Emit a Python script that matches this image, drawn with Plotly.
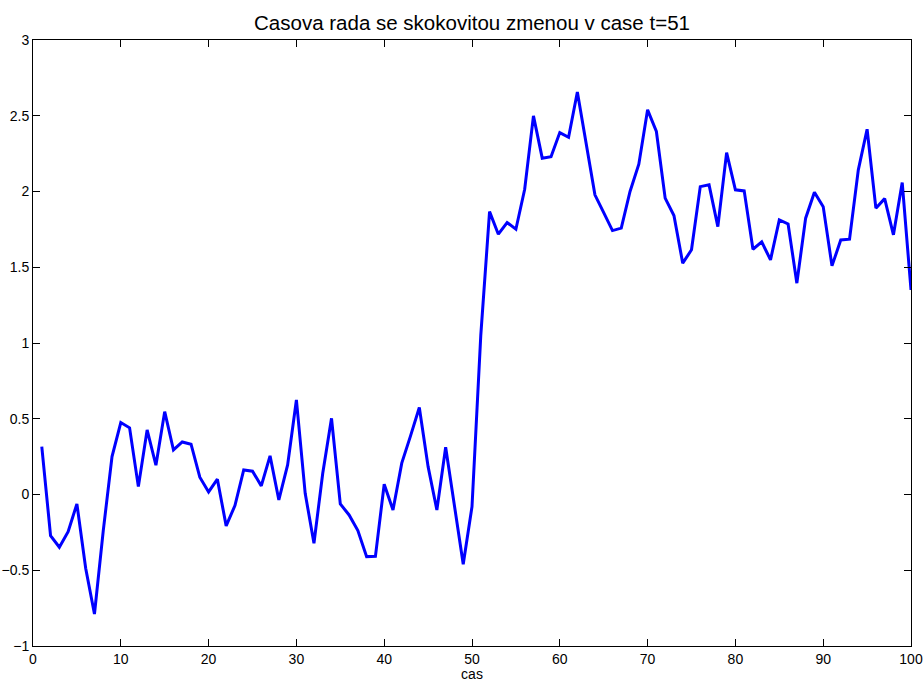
import plotly.graph_objects as go

t = list(range(1, 101))
values = [
    0.316, -0.271, -0.348, -0.245, -0.062, -0.487, -0.789, -0.24, 0.25, 0.475,
    0.44, 0.052, 0.426, 0.193, 0.547, 0.294, 0.347, 0.332, 0.114, 0.017,
    0.101, -0.207, -0.073, 0.162, 0.154, 0.057, 0.255, -0.036, 0.195, 0.624,
    0.008, -0.322, 0.14, 0.503, -0.062, -0.135, -0.238, -0.41, -0.408, 0.068,
    -0.102, 0.207, 0.387, 0.574, 0.184, -0.102, 0.312, -0.069, -0.46, -0.08,
    1.05, 1.867, 1.718, 1.795, 1.751, 2.015, 2.499, 2.22, 2.23, 2.389,
    2.358, 2.657, 2.31, 1.978, 1.861, 1.742, 1.758, 2.0, 2.18, 2.539,
    2.396, 1.956, 1.841, 1.527, 1.615, 2.032, 2.044, 1.768, 2.257, 2.011,
    2.004, 1.619, 1.667, 1.549, 1.813, 1.786, 1.395, 1.824, 1.995, 1.9,
    1.509, 1.68, 1.685, 2.143, 2.411, 1.89, 1.953, 1.714, 2.059, 1.35,
]
title_text = "Casova rada se skokovitou zmenou v case t=51"
x_label = "cas"

FONT = "Liberation Sans, Arial, Helvetica, sans-serif"

fig = go.Figure()
fig.add_trace(go.Scatter(
    x=t, y=values, mode="lines",
    line=dict(color="#0000FF", width=3),
    showlegend=False,
))

axis_common = dict(
    showline=True, linecolor="black", linewidth=1, mirror="ticks",
    ticks="inside", ticklen=7, tickcolor="black", tickwidth=1,
    showgrid=False, zeroline=False, automargin=False,
    tickfont=dict(family=FONT, size=14, color="black"),
)

fig.update_layout(
    width=923, height=682,
    margin=dict(l=33, r=12, t=40, b=36, autoexpand=False),
    paper_bgcolor="white", plot_bgcolor="white",
    font=dict(family=FONT, color="black"),
    title=dict(
        text=title_text, x=0.5, xanchor="center", xref="paper",
        y=1, yref="paper", yanchor="bottom", pad=dict(b=10),
        font=dict(family=FONT, size=20.5, color="black"),
        automargin=False,
    ),
    xaxis=dict(range=[0, 100], tickmode="linear", tick0=0, dtick=10,
               title=dict(text=x_label, standoff=2,
                          font=dict(family=FONT, size=14, color="black")),
               **axis_common),
    yaxis=dict(range=[-1, 3], tickmode="linear", tick0=-1, dtick=0.5,
               **axis_common),
)

fig.write_html("out.html")
